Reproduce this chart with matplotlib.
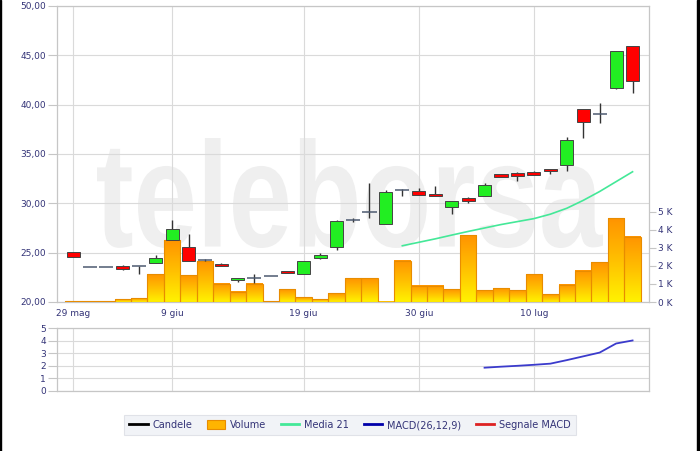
import numpy as np
import matplotlib
matplotlib.use("Agg")
import matplotlib.pyplot as plt
from matplotlib.patches import Rectangle, PathPatch, Patch
from matplotlib.lines import Line2D
from matplotlib.textpath import TextPath
from matplotlib.font_manager import FontProperties
from matplotlib.colors import LinearSegmentedColormap
import matplotlib.transforms as mtransforms

# --- data ---
date_labels = ["29 mag", "9 giu", "19 giu", "30 giu", "10 lug"]
date_index = [0, 6, 14, 21, 28]

opens = [25.05, 23.56, 23.56, 23.65, 23.63, 23.93, 26.30, 25.62, 24.25, 23.90,
         22.25, 22.45, 22.61, 23.15, 22.88, 24.50, 25.62, 28.30, 29.10, 27.90,
         31.40, 31.30, 30.95, 29.66, 30.55, 30.78, 32.98, 33.08, 33.22, 33.50,
         33.93, 39.53, 39.05, 41.66, 45.93]
highs = [25.05, 23.56, 23.56, 23.75, 23.63, 24.78, 28.34, 26.85, 24.35, 23.95,
         22.45, 22.85, 22.61, 23.15, 24.17, 24.95, 28.30, 28.54, 32.07, 31.32,
         31.45, 31.56, 31.80, 30.27, 30.65, 32.03, 33.00, 33.19, 33.30, 33.50,
         36.71, 39.55, 40.14, 45.46, 45.93]
lows = [24.60, 23.56, 23.56, 23.25, 22.85, 23.93, 26.30, 24.20, 24.20, 23.60,
        22.07, 21.90, 22.61, 22.90, 22.88, 24.34, 25.29, 28.06, 28.54, 27.90,
        30.70, 30.80, 30.75, 28.92, 30.05, 30.78, 32.64, 32.30, 32.90, 32.98,
        33.25, 36.61, 38.17, 41.56, 41.15]
closes = [24.60, 23.56, 23.56, 23.30, 23.63, 24.50, 27.42, 24.20, 24.25, 23.60,
          22.45, 22.45, 22.61, 22.90, 24.17, 24.78, 28.24, 28.30, 29.10, 31.11,
          31.40, 30.80, 30.75, 30.27, 30.20, 31.90, 32.64, 32.74, 32.90, 33.32,
          36.37, 38.24, 39.05, 45.46, 42.37]
volume_k = [0.05, 0.05, 0.05, 0.15, 0.20, 1.54, 3.44, 1.48, 2.26, 1.02,
            0.56, 1.02, 0.03, 0.72, 0.26, 0.15, 0.49, 1.33, 1.33, 0.02,
            2.30, 0.90, 0.90, 0.70, 3.70, 0.65, 0.76, 0.65, 1.54, 0.44,
            0.96, 1.74, 2.20, 4.64, 3.62]
media21 = [None] * 20 + [25.70, 26.05, 26.40, 26.78, 27.15, 27.50, 27.85, 28.15,
                         28.45, 28.90, 29.50, 30.30, 31.20, 32.20, 33.20]
macd = [None] * 25 + [1.85, 1.93, 2.00, 2.08, 2.17, 2.45, 2.75, 3.05, 3.77, 4.01]

price_ticks = [20, 25, 30, 35, 40, 45, 50]
volume_ticks = [0, 1, 2, 3, 4, 5]
macd_ticks = [0, 1, 2, 3, 4, 5]

LABEL = "#333377"
GRID = "#dadada"
SPINE = "#c6c6c6"
W, H = 700, 451


def style_axis(ax):
    for s in ax.spines.values():
        s.set_color(SPINE)
        s.set_linewidth(0.9)
    ax.tick_params(colors=SPINE, labelcolor=LABEL, labelsize=6.5,
                   direction="out", length=6.5, width=0.8, pad=1.5)


fig = plt.figure(figsize=(W / 100, H / 100), dpi=100)
fig.patch.set_facecolor("white")

rect_main = [57 / W, 1 - 302 / H, (649 - 57) / W, (302 - 6) / H]
rect_macd = [57 / W, 1 - 391 / H, (649 - 57) / W, (391 - 328) / H]

# watermark
tp = TextPath((0, 0), "teleborsa", size=100,
              prop=FontProperties(family="Liberation Sans", weight="bold"))
bb = tp.get_extents()
x0, x1, ytop, ybase = 97, 603, 138, 248
tr = (mtransforms.Affine2D().translate(-bb.x0, -bb.y0)
      .scale((x1 - x0) / bb.width, (ybase - ytop) / bb.height)
      .translate(x0, H - ybase))
fig.patches.append(PathPatch(tp, transform=tr, facecolor="#efefef",
                             edgecolor="none", zorder=-1))

# price axes (grid + ticks)
ax = fig.add_axes(rect_main)
ax.patch.set_visible(False)
ax.set_xlim(-1, 35)
ax.set_ylim(20, 50)
ax.set_yticks(price_ticks)
ax.set_yticklabels(["{:.2f}".format(v).replace(".", ",") for v in price_ticks])
ax.set_xticks(date_index)
ax.set_xticklabels(date_labels)
style_axis(ax)
ax.tick_params(axis="x", length=0, pad=5)
ax.grid(True, color=GRID, linewidth=0.8)
ax.set_axisbelow(True)

# volume axes
ax_v = ax.twinx()
ax_v.patch.set_visible(False)
ax_v.set_ylim(0, 16.44)
ax_v.set_yticks(volume_ticks)
ax_v.set_yticklabels(["{} K".format(v) for v in volume_ticks])
style_axis(ax_v)
ax_v.tick_params(axis="y", length=5)
for s in ax_v.spines.values():
    s.set_visible(False)

vol_cmap = LinearSegmentedColormap.from_list("vol", ["#fff200", "#ffc000", "#ff9400"])
grad = np.linspace(0, 1, 64).reshape(-1, 1)
for i, v in enumerate(volume_k):
    ax_v.imshow(grad, extent=(i - 0.5, i + 0.5, 0, v), origin="lower",
                cmap=vol_cmap, aspect="auto", zorder=2, interpolation="bilinear")
    ax_v.add_patch(Rectangle((i - 0.5, 0), 1, v, facecolor="none",
                             edgecolor="#e88c00", linewidth=0.8, zorder=3))
ax_v.set_xlim(-1, 35)
ax_v.set_ylim(0, 16.44)

# candles on top
ax_c = fig.add_axes(rect_main, sharex=ax, sharey=ax)
ax_c.patch.set_visible(False)
ax_c.axis("off")
for i, (o, h, l, c) in enumerate(zip(opens, highs, lows, closes)):
    if h > l:
        ax_c.vlines(i, l, h, color="#333333", linewidth=1.0, zorder=3)
    if abs(c - o) < 0.02:
        ax_c.hlines(o, i - 0.43, i + 0.43, color="#4d5a70", linewidth=1.1, zorder=4)
    else:
        col = "#22ee22" if c > o else "#ff0000"
        ax_c.add_patch(Rectangle((i - 0.4, min(o, c)), 0.8, abs(c - o),
                                 facecolor=col, edgecolor="#444444",
                                 linewidth=0.7, zorder=4))
x = np.arange(len(closes))
ax_c.plot(x, np.array(media21, dtype=float), color="#44e898", linewidth=1.2, zorder=5)
ax_c.set_xlim(-1, 35)
ax_c.set_ylim(20, 50)

# MACD
ax_m = fig.add_axes(rect_macd)
ax_m.set_xlim(-1, 35)
ax_m.set_ylim(0, 5)
ax_m.set_yticks(macd_ticks)
ax_m.set_xticks(date_index)
ax_m.set_xticklabels([])
style_axis(ax_m)
ax_m.tick_params(axis="x", length=0)
ax_m.grid(True, color=GRID, linewidth=0.8)
ax_m.set_axisbelow(True)
ax_m.plot(x, np.array(macd, dtype=float), color="#3b3bcc", linewidth=1.3)

# legend
handles = [
    Line2D([], [], color="black", linewidth=2),
    Patch(facecolor="#ffb400", edgecolor="#e88c00", linewidth=0.8),
    Line2D([], [], color="#44e898", linewidth=2),
    Line2D([], [], color="#0000aa", linewidth=2),
    Line2D([], [], color="#dd2222", linewidth=2),
]
labels = ["Candele", "Volume", "Media 21", "MACD(26,12,9)", "Segnale MACD"]
leg = fig.legend(handles, labels, ncol=5, loc="center",
                 bbox_to_anchor=(350 / W, 1 - 425 / H), fontsize=7,
                 handlelength=1.9, handleheight=1.0, handletextpad=0.5,
                 columnspacing=1.5, borderpad=0.55, fancybox=False,
                 frameon=True, labelcolor=LABEL)
leg.get_frame().set_facecolor("#eef0f5")
leg.get_frame().set_edgecolor("#dadde4")
leg.get_frame().set_linewidth(0.8)

# screenshot border
fig.add_artist(Rectangle((0, 0), 1.0 / W, 1, transform=fig.transFigure,
                         color="black", zorder=10))
fig.add_artist(Rectangle((1 - 3 / W, 0), 3 / W, 1, transform=fig.transFigure,
                         color="black", zorder=10))

fig.savefig("out.png", dpi=100)
